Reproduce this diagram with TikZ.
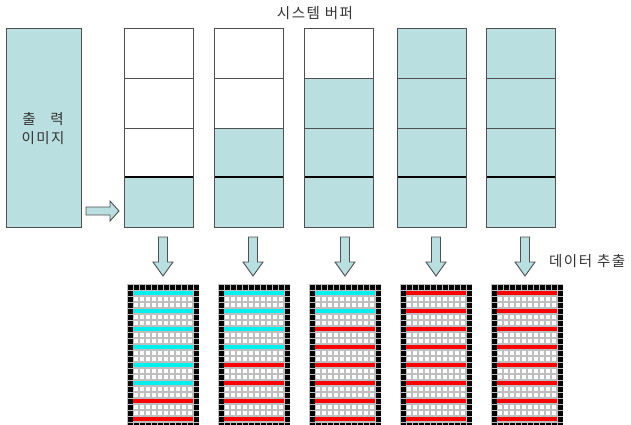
\documentclass[tikz,border=0pt]{standalone}
\usepackage{fontspec}
\newfontfamily\kr[LetterSpace=10]{Noto Sans CJK KR}
\definecolor{lb}{HTML}{BADFE0}
\definecolor{edge}{HTML}{505050}
\definecolor{cy}{HTML}{00F0F0}
\definecolor{rd}{HTML}{FF0000}
\definecolor{gl}{HTML}{BEBEBE}
\definecolor{txt}{HTML}{333333}
\begin{document}
\begin{tikzpicture}[x=1pt,y=-1pt,
  lbl/.style={font=\kr\fontsize{14.5}{17}\selectfont, text=txt, inner sep=0pt},
  slot/.style={draw=edge, line width=0.9pt, inner sep=0pt},
  blockarrow/.style={draw=edge, fill=lb, line width=0.9pt, line join=miter},
  downarr/.pic={\draw[blockarrow] (-4.5,0) -- (4.5,0) -- (4.5,25) -- (10,25) -- (0,39) -- (-10,25) -- (-4.5,25) -- cycle;},
  rightarr/.pic={\draw[blockarrow] (0,-4) -- (24,-4) -- (24,-10) -- (33,0) -- (24,10) -- (24,4) -- (0,4) -- cycle;}]
\useasboundingbox (0,0) rectangle (631,425);
\fill[white] (0,0) rectangle (631,425);

% title
\node[lbl] (title) at (315,13) {시스템\hspace{5pt}버퍼};

% output image box
\node[slot, fill=lb, minimum width=75pt, minimum height=199pt, anchor=north west] (img) at (6,28) {};
\node[lbl] (t1) at (29,119) {출};
\node[lbl] (t2) at (57,119) {력};
\node[lbl] (t3) at (43,138) {이미지};

% right arrow
\coordinate (ra) at (86,211);
\pic at (ra) {rightarr};

% buffers
\foreach \i/\xl/\n/\ax in {1/124/1/163,2/214/2/253,3/304/3/345,4/397/4/436,5/486/4/525}{
  \fill[lb] (\xl,227) rectangle ++(69,-49.75*\n);
  \draw[edge, line width=0.8pt] (\xl,78) -- ++(69,0);
  \draw[edge, line width=0.8pt] (\xl,128) -- ++(69,0);
  \draw[black, line width=1.3pt] (\xl,177) -- ++(69,0);
  \node[slot, minimum width=69pt, minimum height=199pt, anchor=north west] (buf\i) at (\xl,28) {};
  \coordinate (da\i) at (\ax,237);
  \pic at (da\i) {downarr};
}

\node[lbl, anchor=west] (extract) at (549,261) {데이터\hspace{5pt}추출};

% pixel grids
\foreach \g/\nc in {0/6,1/4,2/2,3/0,4/0}{
  \pgfmathsetmacro\gx{127+91*\g}
  \fill[gl] (\gx,284) rectangle ++(72,144);
  \foreach \c in {0,...,11}{
    \fill[black] (\gx+\c*6+0.5,284.5) rectangle ++(5,5);
    \fill[black] (\gx+\c*6+0.5,284.5+138) rectangle ++(5,5);
  }
  \foreach \r in {1,...,22}{
    \fill[black] (\gx+0.5,284.5+\r*6) rectangle ++(5,5);
    \fill[black] (\gx+66.5,284.5+\r*6) rectangle ++(5,5);
    \foreach \c in {1,...,10}{
      \fill[white] (\gx+\c*6+0.6,284.6+\r*6) rectangle ++(4.8,4.8);
    }
  }
  \foreach \s in {0,...,7}{
    \ifnum\s<\nc \def\sc{cy}\else\def\sc{rd}\fi
    \foreach \c in {1,...,10}{
      \fill[\sc] (\gx+\c*6+0.3,284.7+6+18*\s) rectangle ++(5.4,4.6);
    }
  }
}
\end{tikzpicture}
\end{document}
